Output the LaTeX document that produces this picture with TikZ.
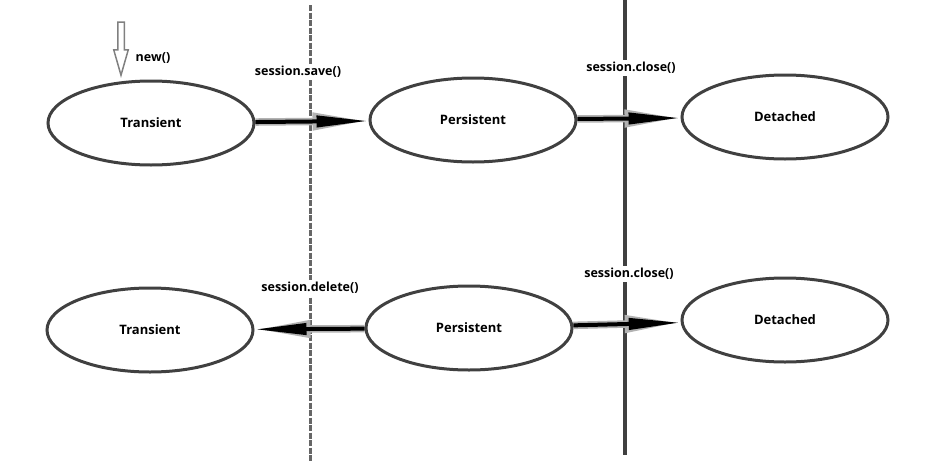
\documentclass[tikz,border=0pt]{standalone}
\usepackage{fontspec}
\setmainfont{Open Sans}
\usetikzlibrary{shapes.geometric, shapes.arrows, arrows.meta, positioning}
\definecolor{edge}{HTML}{404040}
\tikzstyle{arrow} = [line width=4pt, -{Triangle[length=52pt,width=11pt]},
  preaction={draw=gray!60, line width=7.5pt, -{Triangle[length=56pt,width=16pt]}}]

\begin{document}
\begin{tikzpicture}[x=1pt, y=-1pt,
    state/.style={ellipse, draw=edge, line width=3pt, minimum width=206pt, minimum height=84pt, font=\bfseries\fontsize{13}{15}\selectfont},
    call/.style={fill=white, inner sep=2pt, font=\bfseries\fontsize{12.5}{15}\selectfont}]
    \useasboundingbox (0,0) rectangle (932,461);

    % Boundaries
    \draw[black!60, line width=3pt, dash pattern=on 6pt off 1.5pt] (310,5) -- (310,461);
    \draw[edge, line width=3.5pt] (625,0) -- (625,455);

    % States
    \node[state] (trans1) at (151,123) {Transient};
    \node[state] (pers1) at (473,120) {Persistent};
    \node[state] (det1) at (785,117) {Detached};
    \node[state] (trans2) at (150,330) {Transient};
    \node[state] (pers2) at (469,328) {Persistent};
    \node[state] (det2) at (785,320) {Detached};

    % Entry
    \node[single arrow, draw=gray, line width=1.5pt, shape border rotate=270, inner sep=2.5pt,
        minimum width=14pt, minimum height=53pt, single arrow head extend=4pt,
        single arrow tip angle=32] (newarrow) at (121,43) {};
    \node[call] (new) at (153,58) {new()};

    % Transitions
    \draw[arrow] (trans1) -- (pers1);
    \draw[arrow] (pers1) -- (det1);
    \draw[arrow] (pers2) -- (trans2);
    \draw[arrow] (pers2) -- (det2);

    % Labels
    \node[call] (save) at (298,72) {session.save()};
    \node[call] (close1) at (631,68) {session.close()};
    \node[call] (delete) at (310,288) {session.delete()};
    \node[call] (close2) at (629,274) {session.close()};
\end{tikzpicture}
\end{document}
